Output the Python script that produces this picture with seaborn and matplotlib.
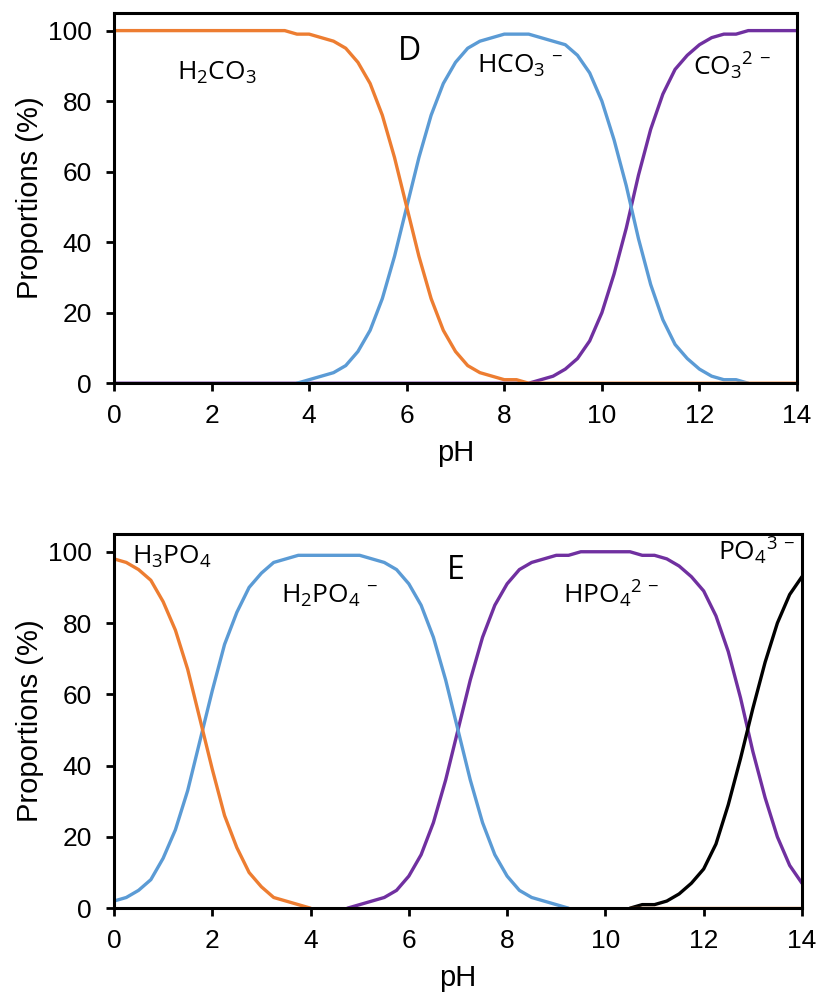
import numpy as np
import pandas as pd
import seaborn as sns
import matplotlib.pyplot as plt

nan = np.nan

# pH grid, every 0.25 unit from 0 to 14
ph = np.linspace(0, 14, 57)

# panel D - carbonate system (percent)
h2co3 = [100] * 15 + [99, 99, 98, 97, 95, 91, 85, 76, 64, 50, 36, 24, 15, 9, 5, 3, 2, 1, 1] + [0] * 23
hco3 = [nan] * 15 + [0, 1, 2, 3, 5, 9, 15, 24, 36, 50, 64, 76, 85, 91, 95, 97, 98, 99, 99, 99,
                     98, 97, 96, 93, 88, 80, 69, 56, 41, 28, 18, 11, 7, 4, 2, 1, 1, 0] + [nan] * 4
co3 = [0] * 35 + [1, 2, 4, 7, 12, 20, 31, 44, 59, 72, 82, 89, 93, 96, 98, 99, 99, 100, 100, 100, 100, 100]

# panel E - phosphate system (percent)
h3po4 = [98, 97, 95, 92, 86, 78, 67, 53, 39, 26, 17, 10, 6, 3, 2, 1, 0] + [nan] * 25 + [0] * 15
h2po4 = [2, 3, 5, 8, 14, 22, 33, 47, 61, 74, 83, 90, 94, 97, 98, 99, 99, 99, 99, 99, 99, 98, 97, 95,
         91, 85, 76, 64, 50, 36, 24, 15, 9, 5, 3, 2, 1, 0] + [nan] * 19
hpo4 = [nan] * 19 + [0, 1, 2, 3, 5, 9, 15, 24, 36, 50, 64, 76, 85, 91, 95, 97, 98, 99, 99, 100, 100,
                     100, 100, 100, 99, 99, 98, 96, 93, 89, 82, 72, 59, 44, 31, 20, 12, 7]
po4 = [nan] * 42 + [0, 1, 1, 2, 4, 7, 11, 18, 29, 42, 56, 69, 80, 88, 93]

orange = '#ED7D31'
blue = '#5B9BD5'
purple = '#7030A0'

sns.set_style('ticks')
plt.rcParams['font.family'] = ['Liberation Sans', 'DejaVu Sans']
plt.rcParams['mathtext.fontset'] = 'custom'
plt.rcParams['mathtext.rm'] = 'Open Sans'
plt.rcParams['mathtext.default'] = 'regular'
for k in ('text.color', 'axes.labelcolor', 'xtick.color', 'ytick.color'):
    plt.rcParams[k] = 'black'

fig = plt.figure(figsize=(8.2, 9.98), dpi=100)
ax1 = fig.add_axes([0.139, 0.616, 0.833, 0.371])
ax2 = fig.add_axes([0.139, 0.090, 0.839, 0.375])


def draw(ax, series):
    for vals, col in series:
        y = np.array(vals, dtype=float)
        # split on gaps so separate pieces are not joined
        idx = np.where(~np.isnan(y))[0]
        pieces = np.split(idx, np.where(np.diff(idx) > 1)[0] + 1)
        for p in pieces:
            sns.lineplot(x=ph[p], y=y[p], ax=ax, color=col, lw=2.4, estimator=None, sort=False)


draw(ax1, [(co3, purple), (hco3, blue), (h2co3, orange)])
draw(ax2, [(hpo4, purple), (h2po4, blue), (po4, 'black'), (h3po4, orange)])

for ax in (ax1, ax2):
    ax.set_xlim(0, 14)
    ax.set_ylim(0, 105)
    ax.set_xticks(range(0, 15, 2))
    ax.set_yticks(range(0, 101, 20))
    ax.set_xlabel('pH', fontsize=21, labelpad=8)
    ax.set_ylabel('Proportions (%)', fontsize=21, labelpad=3)
    ax.tick_params(labelsize=19, length=6, width=2, color='black')
    ax.tick_params(axis='x', pad=9)
    ax.tick_params(axis='y', pad=10)
    for s in ax.spines.values():
        s.set_linewidth(2.2)
        s.set_color('black')

fs = 19
sp = dict(fontsize=fs, va='center', family='Open Sans')
ax1.text(1.3, 88, r'H$_2$CO$_3$', **sp)
ax1.text(6.05, 94, 'D', fontsize=23, ha='center', va='center', family='Open Sans')
ax1.text(7.45, 90, r'HCO$_3$$^{\,-}$', **sp)
ax1.text(11.87, 90, r'CO$_3$$^{2\,-}$', **sp)

ax2.text(0.37, 98.6, r'H$_3$PO$_4$', **sp)
ax2.text(3.4, 87.6, r'H$_2$PO$_4$$^{\,-}$', **sp)
ax2.text(6.95, 94.6, 'E', fontsize=23, ha='center', va='center', family='Open Sans')
ax2.text(9.14, 88, r'HPO$_4$$^{2\,-}$', **sp)
ax2.text(12.3, 100, r'PO$_4$$^{3\,-}$', **sp)

plt.savefig('out.png', dpi=100)
plt.close()
